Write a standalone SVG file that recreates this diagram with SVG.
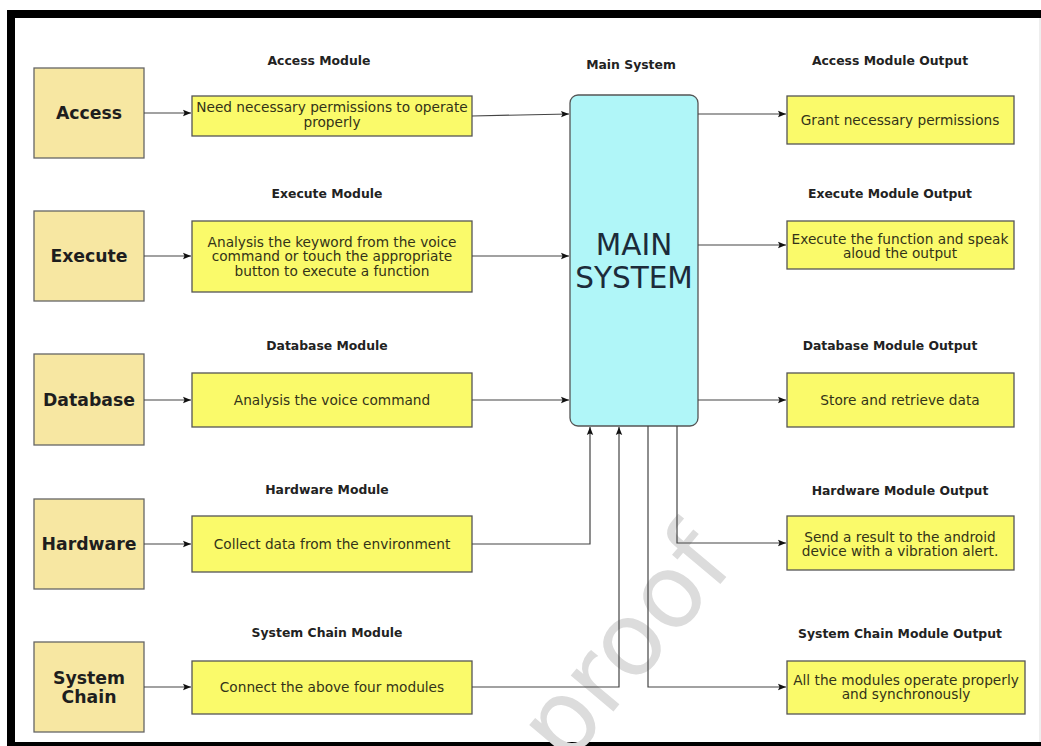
<svg xmlns="http://www.w3.org/2000/svg" width="1041" height="746" viewBox="0 0 1041 746">
<defs>
<marker id="arr" markerWidth="9" markerHeight="8" refX="8" refY="4" orient="auto" markerUnits="userSpaceOnUse">
<path d="M0,0.8 L8,4 L0,7.2 L1.5,4 Z" fill="#111"/>
</marker>
<style>
.lbl{font-family:"DejaVu Sans",Verdana,sans-serif;font-weight:bold;font-size:12.4px;fill:#222;text-anchor:middle}
.src rect{fill:#F7E7A2;stroke:#666;stroke-width:1.3}
.src text{font-family:"DejaVu Sans",Verdana,sans-serif;font-weight:bold;font-size:17.3px;fill:#1e1e1e;text-anchor:middle}
.ybox rect{fill:#FAFA6A;stroke:#555;stroke-width:1.3}
.ybox text{font-family:"DejaVu Sans",Verdana,sans-serif;font-size:13.7px;fill:#333318;text-anchor:middle}
.conn path{fill:none;stroke:#444;stroke-width:1.2;marker-end:url(#arr)}
</style>
</defs>
<rect x="0" y="0" width="1041" height="746" fill="#fff"/>
<!-- frame -->
<rect x="7" y="10" width="1034" height="8" fill="#000"/>
<rect x="7" y="10" width="8" height="736" fill="#000"/>
<rect x="7" y="742" width="1034" height="4" fill="#000"/>
<line x1="1040" y1="18" x2="1040" y2="742" stroke="#ddd" stroke-width="1"/>
<!-- watermark -->
<text x="0" y="0" transform="translate(566,768) rotate(-50)" font-family="DejaVu Sans, sans-serif" font-size="102" fill="#dcdcdc">proof</text>
<!-- labels -->
<g id="labels">
<text class="lbl" x="319" y="65">Access Module</text>
<text class="lbl" x="327" y="198">Execute Module</text>
<text class="lbl" x="327" y="350">Database Module</text>
<text class="lbl" x="327" y="494">Hardware Module</text>
<text class="lbl" x="327" y="637">System Chain Module</text>
<text class="lbl" x="631" y="69">Main System</text>
<text class="lbl" x="890" y="65">Access Module Output</text>
<text class="lbl" x="890" y="198">Execute Module Output</text>
<text class="lbl" x="890" y="350">Database Module Output</text>
<text class="lbl" x="900" y="495">Hardware Module Output</text>
<text class="lbl" x="900" y="638">System Chain Module Output</text>
</g>
<!-- source nodes -->
<g id="access" class="src"><rect x="34" y="68" width="110" height="90"/><text x="89" y="119">Access</text></g>
<g id="execute" class="src"><rect x="34" y="211" width="110" height="90"/><text x="89" y="262">Execute</text></g>
<g id="database" class="src"><rect x="34" y="354" width="110" height="91"/><text x="89" y="406">Database</text></g>
<g id="hardware" class="src"><rect x="34" y="499" width="110" height="90"/><text x="89" y="550">Hardware</text></g>
<g id="systemchain" class="src"><rect x="34" y="642" width="110" height="90"/><text x="89" y="684">System</text><text x="89" y="703">Chain</text></g>
<!-- module nodes -->
<g id="access-module" class="ybox"><rect x="192" y="96" width="280" height="40"/><text x="332" y="112">Need necessary permissions to operate</text><text x="332" y="127">properly</text></g>
<g id="execute-module" class="ybox"><rect x="192" y="221" width="280" height="71"/><text x="332" y="246.5">Analysis the keyword from the voice</text><text x="332" y="261">command or touch the appropriate</text><text x="332" y="275.5">button to execute a function</text></g>
<g id="database-module" class="ybox"><rect x="192" y="373" width="280" height="54"/><text x="332" y="404.5">Analysis the voice command</text></g>
<g id="hardware-module" class="ybox"><rect x="192" y="516" width="280" height="56"/><text x="332" y="548.5">Collect data from the environment</text></g>
<g id="systemchain-module" class="ybox"><rect x="192" y="661" width="280" height="53"/><text x="332" y="691.5">Connect the above four modules</text></g>
<!-- main system -->
<g id="main-system"><rect x="570" y="95" width="128" height="331" rx="8" ry="8" fill="#B0F6F8" stroke="#555" stroke-width="1.3"/>
<text x="634" y="255" font-family="DejaVu Sans, Verdana, sans-serif" font-size="29.5" fill="#1c2b3a" text-anchor="middle">MAIN</text>
<text x="634" y="288" font-family="DejaVu Sans, Verdana, sans-serif" font-size="29.5" fill="#1c2b3a" text-anchor="middle">SYSTEM</text></g>
<!-- output nodes -->
<g id="access-output" class="ybox"><rect x="787" y="96" width="227" height="48"/><text x="900" y="124.5">Grant necessary permissions</text></g>
<g id="execute-output" class="ybox"><rect x="787" y="221" width="227" height="48"/><text x="900" y="243.5">Execute the function and speak</text><text x="900" y="257.5">aloud the output</text></g>
<g id="database-output" class="ybox"><rect x="787" y="373" width="227" height="54"/><text x="900" y="404.5">Store and retrieve data</text></g>
<g id="hardware-output" class="ybox"><rect x="787" y="516" width="227" height="54"/><text x="900" y="541.5">Send a result to the android</text><text x="900" y="555.5">device with a vibration alert.</text></g>
<g id="systemchain-output" class="ybox"><rect x="787" y="661" width="238" height="53"/><text x="906" y="684.5">All the modules operate properly</text><text x="906" y="699">and synchronously</text></g>
<!-- connectors -->
<g id="connectors" class="conn">
<path d="M144,113 H191"/>
<path d="M144,256 H191"/>
<path d="M144,400 H191"/>
<path d="M144,544 H191"/>
<path d="M144,687 H191"/>
<path d="M472,116 L569,114"/>
<path d="M472,256 H569"/>
<path d="M472,400 H569"/>
<path d="M472,544 H590 V427"/>
<path d="M472,687 H619 V427"/>
<path d="M698,114 H786"/>
<path d="M698,245 H786"/>
<path d="M698,400 H786"/>
<path d="M677,426 V543 H786"/>
<path d="M648,426 V687 H786"/>
</g>
</svg>
